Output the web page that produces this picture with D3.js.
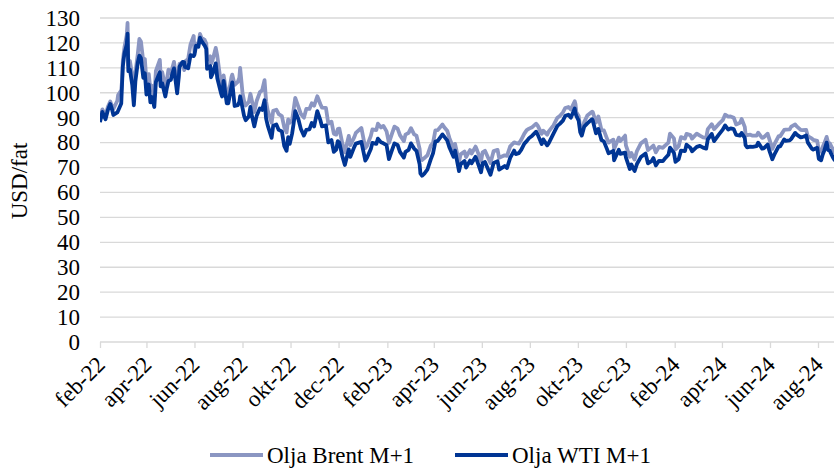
<!DOCTYPE html>
<html>
<head>
<meta charset="utf-8">
<script src="https://cdn.jsdelivr.net/npm/d3@7"></script>
<style>
  body { margin: 0; background: #fff; }
  svg { display: block; font-family: "Liberation Serif", "Times New Roman", serif; }
</style>
</head>
<body>
<div id="chart"></div>
<script>
// data (~2-3 points per week)
var dates = [
  "2022-02-01","2022-02-04","2022-02-08","2022-02-11","2022-02-14","2022-02-16","2022-02-18","2022-02-23","2022-02-24","2022-02-28",
  "2022-03-01","2022-03-02","2022-03-04","2022-03-07","2022-03-08","2022-03-09","2022-03-11","2022-03-14","2022-03-16","2022-03-18",
  "2022-03-21","2022-03-23","2022-03-25","2022-03-28","2022-03-30","2022-04-01","2022-04-04","2022-04-06","2022-04-08","2022-04-11",
  "2022-04-13","2022-04-18","2022-04-19","2022-04-21","2022-04-25","2022-04-27","2022-04-29","2022-05-02","2022-05-04","2022-05-06",
  "2022-05-10","2022-05-12","2022-05-13","2022-05-17","2022-05-19","2022-05-20","2022-05-24","2022-05-27","2022-05-31","2022-06-01",
  "2022-06-03","2022-06-06","2022-06-08","2022-06-10","2022-06-14","2022-06-16","2022-06-17","2022-06-21","2022-06-22","2022-06-24",
  "2022-06-28","2022-06-30","2022-07-05","2022-07-06","2022-07-08","2022-07-12","2022-07-14","2022-07-18","2022-07-19","2022-07-22",
  "2022-07-26","2022-07-28","2022-07-29","2022-08-01","2022-08-03","2022-08-05","2022-08-09","2022-08-11","2022-08-12","2022-08-16",
  "2022-08-19","2022-08-23","2022-08-26","2022-08-29","2022-08-31","2022-09-02","2022-09-07","2022-09-09","2022-09-13","2022-09-16",
  "2022-09-20","2022-09-23","2022-09-26","2022-09-28","2022-09-30","2022-10-03","2022-10-05","2022-10-07","2022-10-11","2022-10-14",
  "2022-10-18","2022-10-21","2022-10-25","2022-10-28","2022-10-31","2022-11-04","2022-11-08","2022-11-10","2022-11-15","2022-11-18",
  "2022-11-22","2022-11-25","2022-11-28","2022-11-30","2022-12-02","2022-12-06","2022-12-09","2022-12-14","2022-12-16","2022-12-21",
  "2022-12-23","2022-12-30","2023-01-04","2023-01-06","2023-01-11","2023-01-13","2023-01-18","2023-01-20","2023-01-24","2023-01-27",
  "2023-01-31","2023-02-03","2023-02-07","2023-02-10","2023-02-14","2023-02-17","2023-02-22","2023-02-24","2023-02-28","2023-03-03",
  "2023-03-07","2023-03-10","2023-03-14","2023-03-15","2023-03-17","2023-03-20","2023-03-24","2023-03-28","2023-03-31","2023-04-03",
  "2023-04-06","2023-04-12","2023-04-14","2023-04-18","2023-04-21","2023-04-26","2023-04-28","2023-05-03","2023-05-05","2023-05-10",
  "2023-05-12","2023-05-17","2023-05-19","2023-05-24","2023-05-26","2023-05-31","2023-06-02","2023-06-05","2023-06-12","2023-06-16",
  "2023-06-21","2023-06-23","2023-06-30","2023-07-03","2023-07-07","2023-07-12","2023-07-14","2023-07-18","2023-07-21","2023-07-25",
  "2023-07-28","2023-07-31","2023-08-04","2023-08-09","2023-08-11","2023-08-16","2023-08-18","2023-08-23","2023-08-25","2023-08-31",
  "2023-09-05","2023-09-08","2023-09-12","2023-09-15","2023-09-19","2023-09-22","2023-09-27","2023-09-28","2023-09-29","2023-10-02",
  "2023-10-04","2023-10-06","2023-10-09","2023-10-13","2023-10-19","2023-10-20","2023-10-24","2023-10-27","2023-10-31","2023-11-03",
  "2023-11-07","2023-11-09","2023-11-15","2023-11-16","2023-11-22","2023-11-24","2023-11-30","2023-12-01","2023-12-06","2023-12-08",
  "2023-12-12","2023-12-15","2023-12-20","2023-12-26","2023-12-29","2024-01-03","2024-01-05","2024-01-08","2024-01-12","2024-01-17",
  "2024-01-19","2024-01-24","2024-01-26","2024-01-31","2024-02-02","2024-02-06","2024-02-09","2024-02-14","2024-02-16","2024-02-21",
  "2024-02-23","2024-02-29","2024-03-04","2024-03-08","2024-03-12","2024-03-14","2024-03-19","2024-03-22","2024-03-28","2024-04-02",
  "2024-04-05","2024-04-09","2024-04-12","2024-04-16","2024-04-19","2024-04-24","2024-04-26","2024-04-30","2024-05-01","2024-05-03",
  "2024-05-07","2024-05-10","2024-05-15","2024-05-17","2024-05-22","2024-05-24","2024-05-29","2024-05-31","2024-06-04","2024-06-07",
  "2024-06-12","2024-06-14","2024-06-19","2024-06-21","2024-06-26","2024-06-28","2024-07-03","2024-07-05","2024-07-10","2024-07-12",
  "2024-07-17","2024-07-19","2024-07-24","2024-07-26","2024-07-31","2024-08-02","2024-08-05","2024-08-07","2024-08-09","2024-08-12",
  "2024-08-14","2024-08-16","2024-08-20","2024-08-22","2024-08-26"
];

var brent = [
  89.2,93.3,90.8,94.4,96.5,94.8,93.5,96.8,99.1,101.0,
  105.0,113.0,118.1,123.2,128.0,111.1,112.7,106.9,98.0,108.0,
  115.6,121.6,120.6,112.5,113.5,104.4,107.5,101.1,102.8,98.5,
  108.8,113.2,107.3,108.3,102.3,105.3,109.3,107.6,110.1,112.4,
  102.5,107.5,111.6,112.0,109.1,112.6,113.6,119.4,122.8,116.3,
  119.7,119.5,123.6,122.0,121.2,119.8,113.1,114.6,111.7,113.1,
  118.0,114.8,102.8,100.7,107.0,99.5,99.1,106.3,107.3,103.2,
  104.4,106.1,110.0,100.0,96.8,94.9,96.3,99.6,98.2,92.3,
  96.7,100.2,101.0,105.1,96.5,93.0,88.0,92.8,93.2,91.4,
  90.6,86.2,84.1,89.3,88.0,88.9,93.4,97.9,94.3,91.6,
  90.0,93.5,93.5,95.8,94.8,98.6,95.4,94.0,93.9,87.6,
  88.4,83.6,83.2,85.4,85.6,79.4,76.1,82.7,79.0,82.2,
  83.9,85.9,77.8,78.6,82.7,85.3,85.0,87.6,86.1,86.7,
  84.5,79.9,83.7,86.4,85.6,83.0,80.6,83.2,83.9,85.8,
  83.3,82.8,77.5,73.7,73.0,73.8,75.0,78.7,79.8,84.9,
  85.0,87.3,86.3,84.8,81.7,77.7,79.5,72.3,75.3,76.4,
  74.2,77.0,75.6,78.4,76.9,72.7,76.1,76.7,71.8,76.6,
  77.1,73.9,74.9,74.7,78.5,80.1,79.9,79.6,81.1,83.6,
  85.0,85.6,86.2,87.6,86.8,83.5,84.8,83.2,84.5,86.9,
  90.0,90.7,92.1,93.9,94.3,93.3,96.6,95.4,92.2,90.7,
  85.8,84.6,88.2,90.9,92.4,92.2,88.1,90.5,85.0,84.9,
  81.6,80.0,81.2,77.4,82.0,80.6,82.8,78.9,74.3,75.8,
  73.2,76.6,79.7,81.1,77.0,78.3,78.8,76.1,78.3,77.9,
  78.6,80.0,83.6,81.7,77.3,78.6,82.2,81.6,83.5,83.0,
  81.6,83.6,82.8,82.1,81.9,85.4,87.4,85.4,87.5,89.0,
  91.2,90.4,90.5,90.0,87.3,88.0,89.5,86.3,83.4,83.0,
  83.2,82.8,82.8,84.0,81.9,82.1,83.6,81.6,77.5,79.6,
  82.6,82.6,85.1,85.2,85.3,86.4,87.3,86.5,85.1,85.0,
  85.1,82.6,81.7,81.1,80.7,76.8,76.3,78.3,79.7,82.3,
  79.8,79.7,77.2,76.1,81.4
];

var wti = [
  88.2,92.3,89.4,93.1,95.5,93.7,91.1,92.1,92.8,95.7,
  103.4,110.6,115.7,119.4,123.7,108.7,109.3,103.0,95.0,104.7,
  112.1,114.9,113.9,106.0,107.8,99.3,103.3,96.2,98.3,94.3,
  104.3,108.2,102.6,103.8,98.5,102.0,104.7,105.2,107.8,109.8,
  99.8,106.1,110.5,112.4,112.2,110.3,109.8,115.1,114.7,115.3,
  118.9,118.5,122.1,120.7,118.9,117.6,109.6,110.7,106.2,107.6,
  111.8,105.8,99.5,98.5,104.8,95.8,95.8,102.6,104.2,94.7,
  95.0,96.4,98.6,93.9,90.7,89.0,90.5,94.3,92.1,86.5,
  90.8,93.7,93.1,97.0,89.6,86.9,81.9,86.8,87.3,85.1,
  84.5,78.7,76.7,82.2,79.5,83.6,87.8,92.6,89.4,85.6,
  82.8,85.1,85.3,87.9,86.5,92.6,88.9,86.5,86.9,80.1,
  81.0,76.3,77.2,80.6,80.0,74.3,71.0,77.3,74.3,78.3,
  79.6,80.3,72.8,73.8,77.4,79.9,79.5,81.6,80.1,79.7,
  79.0,73.4,77.1,79.7,79.1,76.3,74.0,76.3,77.1,79.7,
  77.6,76.7,71.3,67.6,66.7,67.6,69.3,73.2,75.7,80.4,
  80.7,83.3,82.5,80.9,77.9,74.3,76.8,68.6,71.3,72.6,
  70.0,72.8,71.7,74.3,72.7,68.1,71.7,72.2,67.1,71.8,
  72.5,69.2,70.6,69.8,73.9,76.8,75.4,75.8,77.1,79.6,
  80.6,81.8,82.8,84.4,83.2,79.4,81.3,78.9,79.8,83.6,
  86.7,87.5,88.8,90.8,91.2,90.0,93.7,91.7,90.8,88.8,
  84.2,82.8,86.4,87.7,89.4,88.8,83.7,85.5,81.0,80.5,
  77.4,75.7,76.7,72.9,77.1,75.5,76.0,74.1,69.4,71.2,
  68.6,71.4,74.2,75.6,71.7,72.7,73.8,70.8,72.7,72.6,
  73.4,75.1,78.0,75.9,72.3,73.3,76.8,76.6,79.2,77.9,
  76.5,78.3,78.7,78.0,77.6,81.3,83.5,80.6,83.2,85.2,
  86.9,85.2,85.7,85.4,83.1,82.8,83.9,81.9,79.0,78.1,
  78.4,78.3,78.6,80.0,77.6,77.7,79.2,77.0,73.3,75.5,
  78.5,78.5,81.3,80.7,80.9,81.5,83.9,83.2,82.1,82.2,
  82.9,80.1,77.6,77.2,77.9,73.5,72.9,75.2,76.8,80.0,
  77.0,76.7,74.0,73.0,77.4
];

var yTicks = [0,10,20,30,40,50,60,70,80,90,100,110,120,130];
var monthNames = ["jan","feb","mar","apr","maj","jun","jul","aug","sep","okt","nov","dec"];
var seriesNames = ["Olja Brent M+1", "Olja WTI M+1"];
var seriesColors = ["#8b96c2", "#003594"];

var W = 834, H = 472;
var plotLeft = 100, plotRight = 834, plotTop = 18, plotBottom = 342;

var parse = d3.timeParse("%Y-%m-%d");
var rows = dates.map(function(d, i) { return {date: parse(d), brent: brent[i], wti: wti[i]}; });

var svg = d3.select("#chart").append("svg")
  .attr("width", W).attr("height", H);

// x is a date axis, feb-22 .. aug-24 ticks
var x = d3.scaleTime()
  .domain([parse("2022-02-01"), parse("2024-08-01")])
  .range([plotLeft, 818]);

var y = d3.scaleLinear()
  .domain([0, 130])
  .range([plotBottom, plotTop]);

// gridlines
svg.append("g")
  .selectAll("line")
  .data(yTicks.filter(function(t) { return t > 0; }))
  .enter().append("line")
  .attr("x1", plotLeft).attr("x2", plotRight)
  .attr("y1", function(d) { return y(d); })
  .attr("y2", function(d) { return y(d); })
  .attr("stroke", "#d9d9d9")
  .attr("stroke-width", 1.3);

// y labels
svg.append("g")
  .selectAll("text")
  .data(yTicks)
  .enter().append("text")
  .attr("x", 80)
  .attr("y", function(d) { return y(d); })
  .attr("dy", "0.34em")
  .attr("text-anchor", "end")
  .attr("font-size", 23)
  .attr("fill", "#000")
  .text(function(d) { return d; });

svg.append("text")
  .attr("transform", "translate(27,181) rotate(-90)")
  .attr("text-anchor", "middle")
  .attr("font-size", 23)
  .text("USD/fat");

// x axis
var xTicks = d3.timeMonth.range(parse("2022-02-01"), parse("2024-09-01"), 2);
var xAxis = svg.append("g")
  .attr("transform", "translate(0," + plotBottom + ")")
  .call(d3.axisBottom(x).tickValues(xTicks).tickSize(6).tickSizeOuter(0)
    .tickFormat(function(d) { return monthNames[d.getMonth()] + "-" + d3.timeFormat("%y")(d); }));
xAxis.select(".domain").remove();
xAxis.append("line")
  .attr("x1", plotLeft).attr("x2", plotRight)
  .attr("stroke", "#d9d9d9").attr("stroke-width", 1.3);
xAxis.selectAll(".tick line").attr("stroke", "#d9d9d9").attr("stroke-width", 1.3);
xAxis.selectAll(".tick text")
  .attr("font-family", "Liberation Serif, Times New Roman, serif")
  .attr("font-size", 23)
  .attr("fill", "#000")
  .attr("text-anchor", "end")
  .attr("y", 0).attr("dy", 0)
  .attr("transform", "translate(6,24) rotate(-45)");

// lines
svg.append("clipPath").attr("id", "clip")
  .append("rect").attr("x", plotLeft).attr("y", 0).attr("width", plotRight - plotLeft).attr("height", H);

var plot = svg.append("g").attr("clip-path", "url(#clip)");
["brent", "wti"].forEach(function(key, i) {
  plot.append("path")
    .datum(rows)
    .attr("fill", "none")
    .attr("stroke", seriesColors[i])
    .attr("stroke-width", 3.8)
    .attr("stroke-linejoin", "round")
    .attr("d", d3.line()
      .x(function(d) { return x(d.date); })
      .y(function(d) { return y(d[key]); }));
});

// legend
var legendX = [210, 455];
seriesNames.forEach(function(name, i) {
  var g = svg.append("g").attr("transform", "translate(" + legendX[i] + ",455)");
  g.append("line").attr("x1", 0).attr("x2", 53)
    .attr("stroke", seriesColors[i]).attr("stroke-width", 3.8);
  g.append("text").attr("x", 57).attr("dy", "0.34em")
    .attr("font-size", 23).text(name);
});
</script>
</body>
</html>
